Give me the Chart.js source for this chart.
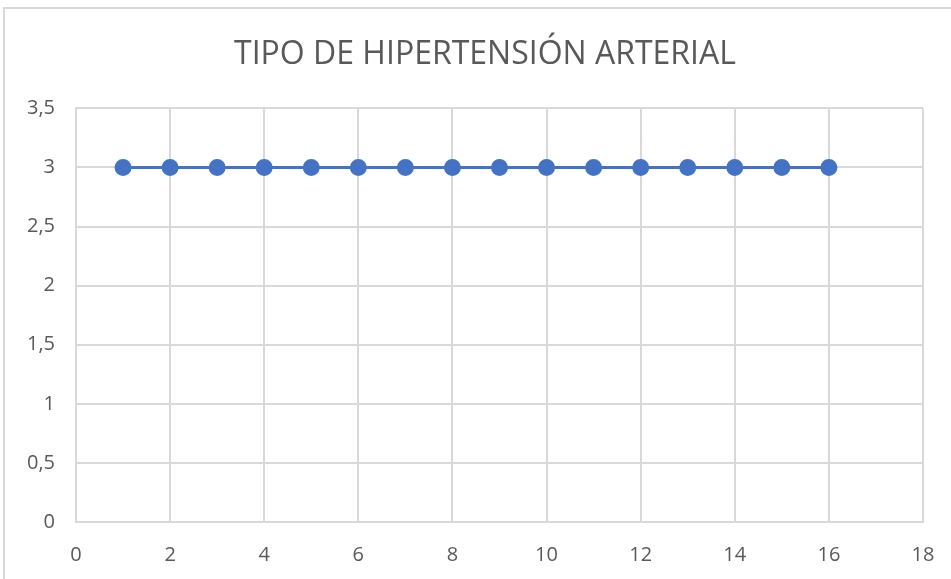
<!DOCTYPE html>
<html>
<head>
<meta charset="utf-8">
<script src="https://cdn.jsdelivr.net/npm/chart.js@4"></script>
<style>
    body { margin: 0; background: #fff; }
    #marco { position: absolute; left: 3px; top: 7px; width: 960px; height: 590px; border: 2px solid #d9d9d9; }
    #caja { position: absolute; left: 0; top: 0; width: 951px; height: 579px; }
</style>
</head>
<body>
<div id="marco"></div>
<div id="caja"><canvas id="graficoTipo"></canvas></div>
<script>
//Datos del gráfico
const titulo = 'TIPO DE HIPERTENSIÓN ARTERIAL';
const pacientes = [1, 2, 3, 4, 5, 6, 7, 8, 9, 10, 11, 12, 13, 14, 15, 16];
const tipoHipertension = [3, 3, 3, 3, 3, 3, 3, 3, 3, 3, 3, 3, 3, 3, 3, 3];
const ticksX = [0, 2, 4, 6, 8, 10, 12, 14, 16, 18];
const ticksY = [0, 0.5, 1, 1.5, 2, 2.5, 3, 3.5];

const fuente = "'Open Sans', sans-serif";
const gris = '#d9d9d9';

const ctx = document.getElementById('graficoTipo').getContext('2d');
new Chart(ctx, {
    type: 'scatter',
    data: {
        datasets: [{
            label: titulo,
            data: pacientes.map((p, i) => ({ x: p, y: tipoHipertension[i] })),
            showLine: true,
            borderColor: '#4472C4',
            backgroundColor: '#4472C4',
            borderWidth: 3,
            pointRadius: 7,
            pointHoverRadius: 7
        }]
    },
    options: {
        responsive: true,
        maintainAspectRatio: false,
        animation: false,
        layout: { padding: { top: 36, right: 0, bottom: 0, left: 19 } },
        plugins: {
            legend: { display: false },
            tooltip: { enabled: false },
            title: {
                display: true,
                text: titulo,
                color: '#595959',
                font: { family: fuente, size: 32, weight: 'normal' },
                padding: { top: 0, bottom: 34 }
            }
        },
        scales: {
            x: {
                type: 'linear',
                min: 0,
                max: 18,
                afterBuildTicks: axis => { axis.ticks = ticksX.map(v => ({ value: v })); },
                afterFit: axis => { axis.height = 57; axis.paddingRight = 0; },
                grid: { color: gris, lineWidth: 2, drawTicks: false },
                border: { color: gris, width: 2 },
                ticks: {
                    color: '#595959',
                    font: { family: fuente, size: 20 },
                    padding: 21
                }
            },
            y: {
                min: 0,
                max: 3.5,
                afterBuildTicks: axis => { axis.ticks = ticksY.map(v => ({ value: v })); },
                afterFit: axis => { axis.width = 57; },
                grid: { color: gris, lineWidth: 2, drawTicks: false },
                border: { color: gris, width: 2 },
                ticks: {
                    color: '#595959',
                    font: { family: fuente, size: 20 },
                    padding: 21,
                    callback: v => v.toString().replace('.', ',')
                }
            },
            //eje vacío para dejar margen a la derecha
            margenDerecho: {
                position: 'right',
                min: 0,
                max: 3.5,
                afterFit: axis => { axis.width = 28; },
                grid: { display: false, drawTicks: false },
                border: { display: false },
                ticks: { display: false }
            }
        }
    }
});
</script>
</body>
</html>
